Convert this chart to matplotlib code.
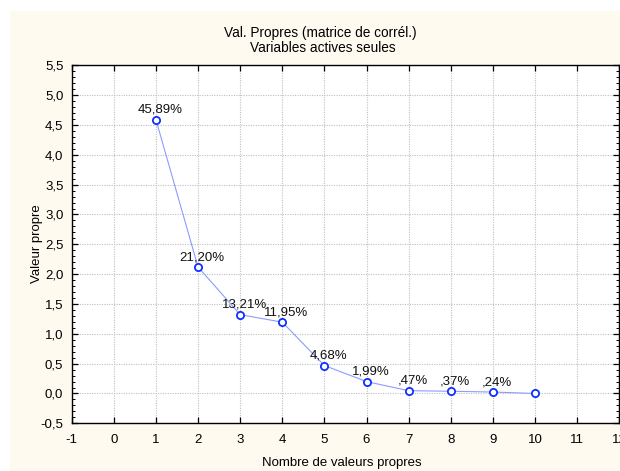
import matplotlib
matplotlib.use("Agg")
import matplotlib.pyplot as plt
from matplotlib.patches import Rectangle
from matplotlib.ticker import FuncFormatter, MultipleLocator

# Data
components = [1, 2, 3, 4, 5, 6, 7, 8, 9, 10]
eigenvalues = [4.589, 2.120, 1.321, 1.195, 0.468, 0.199, 0.047, 0.037, 0.024, 0.000]
pct_labels = ["45,89%", "21,20%", "13,21%", "11,95%", "4,68%", "1,99%", ",47%", ",37%", ",24%", ""]
x_ticks = list(range(-1, 13))
y_ticks = [-0.5, 0.0, 0.5, 1.0, 1.5, 2.0, 2.5, 3.0, 3.5, 4.0, 4.5, 5.0, 5.5]

plt.rcParams['font.family'] = ['Liberation Sans', 'DejaVu Sans']

W, H = 620, 471
fig = plt.figure(figsize=(W / 100, H / 100), dpi=100, facecolor='white')

# cream background panel
bg = Rectangle((10 / W, 0), 1 - 10 / W, 1 - 11 / H,
               transform=fig.transFigure, facecolor='#FFFAF0',
               edgecolor='none', zorder=-10)
fig.patches.append(bg)

ax = fig.add_axes([71.7 / W, 47.7 / H, (619.2 - 71.7) / W, (423.3 - 65.3) / H])
ax.set_zorder(1)
ax.set_facecolor('white')

ax.plot(components, eigenvalues, color='#8C9CFF', lw=0.8, zorder=3)
ax.plot(components, eigenvalues, ls='none', marker='o', ms=5.2, mfc='white',
        mec='#1030FF', mew=1.3, zorder=4)

for x, y, lab in zip(components, eigenvalues, pct_labels):
    if lab:
        ax.annotate(lab, (x, y), xytext=(3.0, 5.0), textcoords='offset points',
                    ha='center', va='baseline', fontsize=9.5, color='#111111', zorder=5)

ax.set_xlim(-1, 12)
ax.set_ylim(-0.5, 5.5)
ax.set_xticks(x_ticks)
ax.set_yticks(y_ticks)
ax.yaxis.set_minor_locator(MultipleLocator(0.1))
ax.yaxis.set_major_formatter(FuncFormatter(lambda v, p: f"{v:.1f}".replace('.', ',')))
ax.xaxis.set_major_formatter(FuncFormatter(lambda v, p: f"{int(round(v))}"))

ax.tick_params(axis='both', which='major', direction='in', length=4, width=0.9,
               top=True, right=True, labelsize=9.5, colors='black')
ax.tick_params(axis='y', which='minor', direction='in', length=2, width=0.7,
               left=True, right=True)
ax.tick_params(axis='x', which='major', pad=8)
ax.tick_params(axis='y', which='major', pad=6)

ax.grid(True, which='major', color='#BFBFBF', lw=0.8, ls=(0, (1, 1.2)), zorder=1)
ax.set_axisbelow(True)
for s in ax.spines.values():
    s.set_linewidth(1.0)
    s.set_color('black')

fig.text(320 / W, 1 - 32.7 / H, "Val. Propres (matrice de corrél.)", ha='center',
         va='center', fontsize=9.8)
fig.text(323 / W, 1 - 48.3 / H, "Variables actives seules", ha='center',
         va='center', fontsize=9.8)
fig.text(37 / W, 1 - 244 / H, "Valeur propre", rotation=90, ha='center',
         va='center', fontsize=9.5)
fig.text(342 / W, 1 - 463 / H, "Nombre de valeurs propres", ha='center',
         va='center', fontsize=9.5)

fig.savefig("out.png", dpi=100, facecolor='white')
